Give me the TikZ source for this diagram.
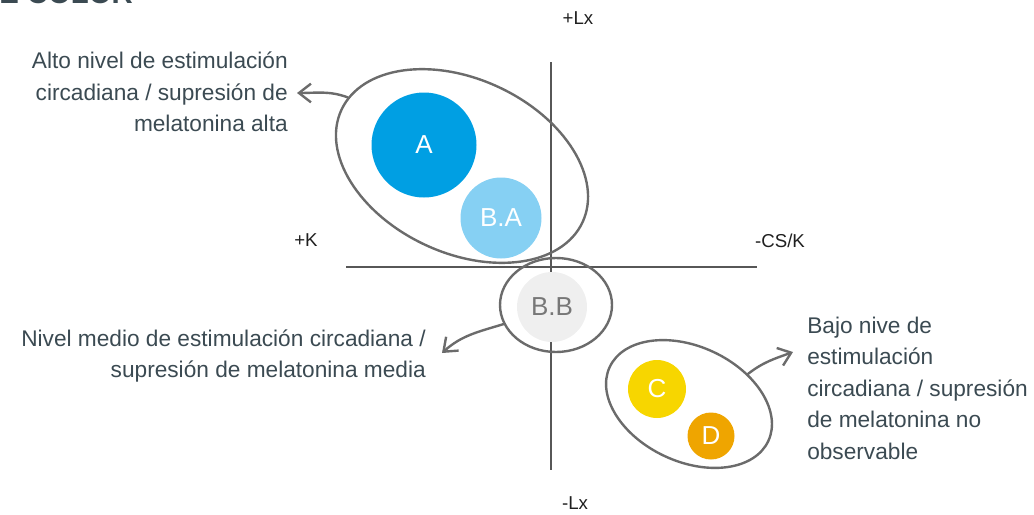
\documentclass[tikz,border=0pt]{standalone}
\usepackage{fontspec}
\setmainfont{Liberation Sans}
\usetikzlibrary{arrows.meta,shapes.geometric}

\definecolor{axisgray}{HTML}{575757}
\definecolor{linegray}{HTML}{6B6B6B}
\definecolor{notetext}{HTML}{3B4A52}
\definecolor{ablue}{HTML}{009FE3}
\definecolor{lightblue}{HTML}{86D0F3}
\definecolor{palegray}{HTML}{EFEFEF}
\definecolor{bbtext}{HTML}{777777}
\definecolor{cyellow}{HTML}{F7D600}
\definecolor{dorange}{HTML}{EFA500}

\begin{document}
\begin{tikzpicture}[x=0.75pt,y=-0.75pt,
  outline/.style={draw=linegray, line width=1.8pt, ellipse, inner sep=0pt},
  dot/.style={circle, inner sep=0pt, text=white, font=\fontsize{19.5}{19.5}\selectfont},
  note/.style={text=notetext, inner sep=0pt, font=\fontsize{17}{23.6}\selectfont},
  axislabel/.style={text=black!88, inner sep=0pt, font=\fontsize{14}{14}\selectfont},
  pointer/.style={draw=linegray, line width=1.8pt, line cap=round,
    -{Straight Barb[length=9pt,width=14pt]}}]

\useasboundingbox (0,0) rectangle (1034,514);

% Title, cut off at the top
\node[anchor=base west, inner sep=0pt, text=notetext,
  font=\bfseries\fontsize{22}{22}\selectfont] (title) at (-1,3) {E COLOR};

% Axes
\coordinate (ytop) at (551,62);
\coordinate (ybot) at (551,470);
\coordinate (xleft) at (346,267);
\coordinate (xright) at (757,267);
\draw[axisgray, line width=1.1pt] (ytop) -- (ybot);
\draw[axisgray, line width=1.1pt] (xleft) -- (xright);

\node[axislabel] (lxplus) at (578,18) {+Lx};
\node[axislabel] (lxminus) at (575,503) {-Lx};
\node[axislabel] (kplus) at (306,240) {+K};
\node[axislabel] (csk) at (780,241) {-CS/K};

% High group
\node[outline, minimum width=199.5pt, minimum height=130.5pt, rotate=-25] (high) at (462,166) {};
\node[dot, fill=ablue, minimum size=78.75pt] (a) at (424,145) {A};
\node[dot, fill=lightblue, minimum size=60.75pt] (ba) at (501,218) {B.A};

% Middle group
\node[outline, minimum width=84pt, minimum height=70.5pt] (mid) at (556,305) {};
\node[dot, fill=palegray, text=bbtext, minimum size=52.5pt] (bb) at (552,307) {B.B};

% Low group
\node[outline, minimum width=131.25pt, minimum height=86.25pt, rotate=-25] (low) at (689,404) {};
\node[dot, fill=cyellow, minimum size=43.5pt] (c) at (657,389) {C};
\node[dot, fill=dorange, minimum size=35.25pt] (d) at (711,436) {D};

% Notes
\node[note, anchor=east, align=right] (highnote) at (288,92)
  {Alto nivel de estimulación\\circadiana / supresión de\\melatonina alta};
\node[note, anchor=east, align=right] (midnote) at (426,356)
  {Nivel medio de estimulación circadiana /\\supresión de melatonina media};
\node[note, anchor=west, align=left] (lownote) at (807,388)
  {Bajo nive de\\estimulación\\circadiana / supresión\\de melatonina no\\observable};

% Pointers
\coordinate (hightip) at (297,93);
\coordinate (midtip) at (442,353);
\coordinate (lowtip) at (793,352);
\draw[pointer] (high.174) to[out=160,in=0] (hightip);
\draw[pointer] (mid.200) to[out=197,in=42] (midtip);
\draw[pointer] (low.52) to[out=38,in=200] (lowtip);

\end{tikzpicture}
\end{document}
